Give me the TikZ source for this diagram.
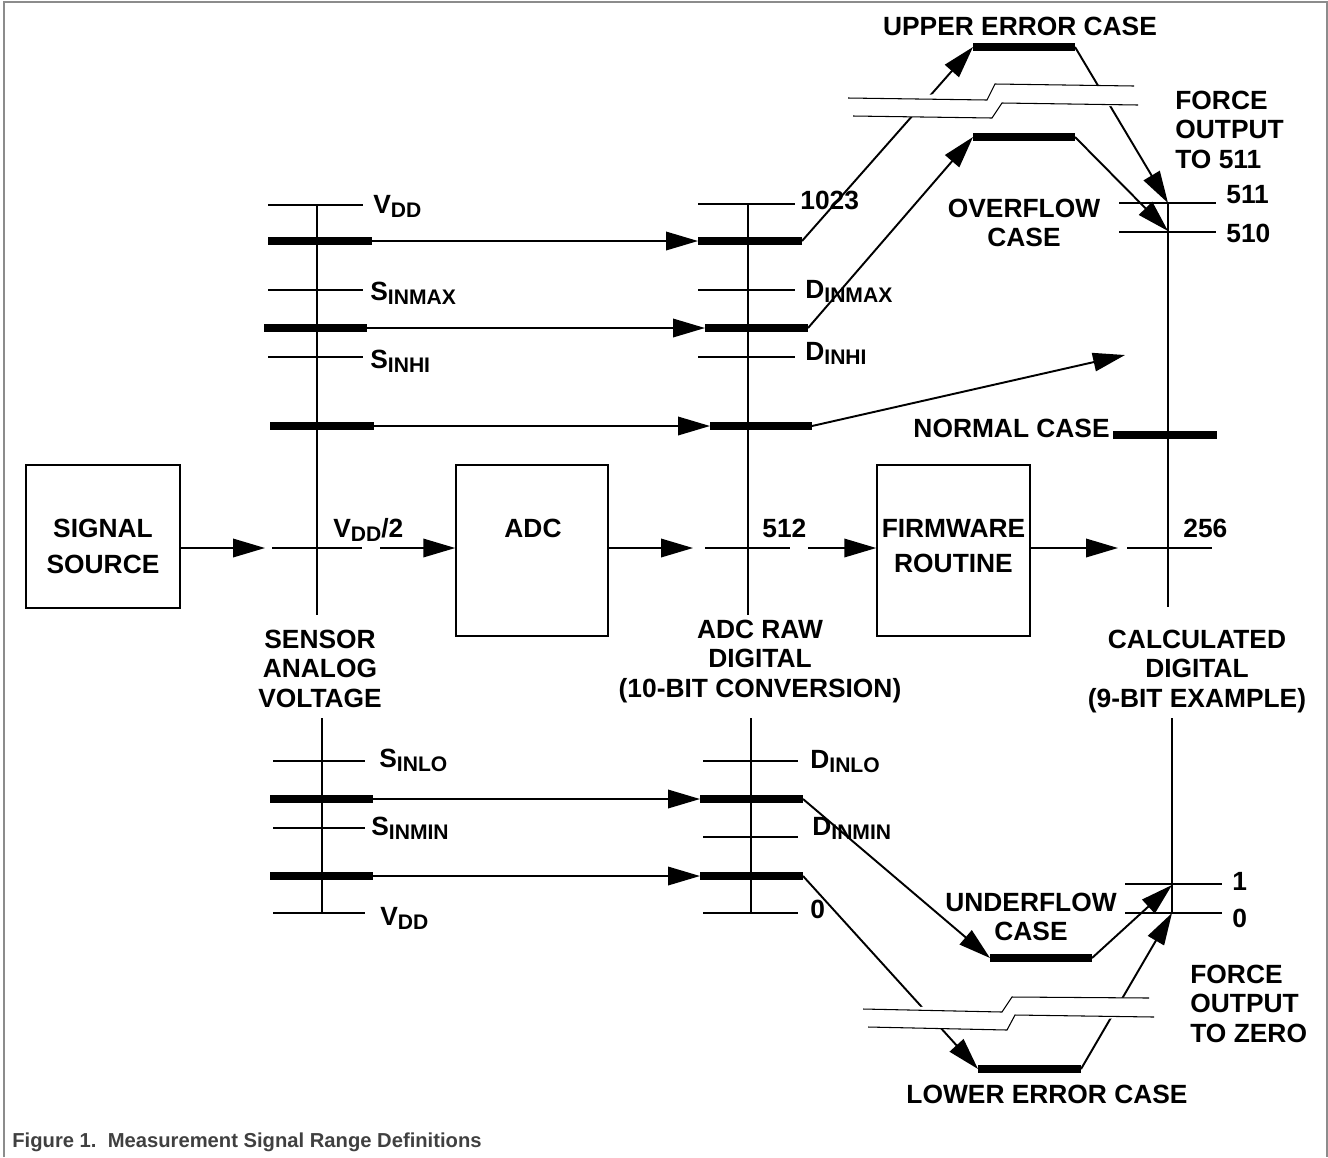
\documentclass[tikz,border=0pt]{standalone}
\usepackage{fontspec}
\setmainfont{Liberation Sans}
\usetikzlibrary{arrows.meta}
\newcommand{\sig}[2]{#1\raisebox{-0.3ex}{\fontsize{12}{12}\selectfont #2}}

\begin{document}
\begin{tikzpicture}[x=0.02cm, y=-0.02cm,
	every node/.style={font=\fontsize{15}{16.6}\selectfont\bfseries, inner sep=0pt, align=center},
	tickline/.style={line width=1.1pt},
	bar/.style={line width=4.6pt},
	conn/.style={line width=1.1pt, -{Triangle[length=0.64cm, width=0.37cm]}},
	box/.style={draw, line width=0.85pt},
	brk/.style={fill=white, draw=black, line width=0.6pt}]
	\useasboundingbox (0,0) rectangle (1328,1157);
	\draw[black!45, line width=1pt] (4,1157) -- (4,2) -- (1327,2) -- (1327,1157);

	% blocks
	\node[box, minimum width=3.08cm, minimum height=2.86cm] (src) at (103,536.5) {};
	\node[box, minimum width=3.04cm, minimum height=3.42cm] (adc) at (532,550.5) {};
	\node[box, minimum width=3.06cm, minimum height=3.42cm] (fw) at (953.5,550.5) {};
	\node[anchor=north] (srcText) at (103,519) {SIGNAL\\[3.6pt]SOURCE};
	\node[anchor=base] (adcText) at (533,537) {ADC};
	\node[anchor=north] (fwText) at (953.5,519) {FIRMWARE\\[3.6pt]ROUTINE};

	% axes
	\draw[tickline] (317,205) -- (317,615);
	\draw[tickline] (322,718) -- (322,913);
	\draw[tickline] (748,205) -- (748,615);
	\draw[tickline] (751,718) -- (751,913);
	\draw[tickline] (1168,203) -- (1168,607);
	\draw[tickline] (1172,718) -- (1172,913);

	% thin ticks
	\foreach \y in {205,290,357} \draw[tickline] (268,\y) -- (363,\y);
	\foreach \y in {761,828,913} \draw[tickline] (273,\y) -- (365,\y);
	\foreach \y in {204,290,357} \draw[tickline] (698,\y) -- (795,\y);
	\foreach \y in {761,837,913} \draw[tickline] (703,\y) -- (798,\y);
	\foreach \y in {203,232} \draw[tickline] (1119,\y) -- (1216,\y);
	\foreach \y in {884,913} \draw[tickline] (1125,\y) -- (1222,\y);
	\draw[tickline] (272,548) -- (362,548);
	\draw[tickline] (705,548) -- (790,548);
	\draw[tickline] (1127,548) -- (1212,548);

	% level bars
	\coordinate (sUE-l) at (268,241); \coordinate (sUE-r) at (372,241);
	\coordinate (sOF-l) at (264,328); \coordinate (sOF-r) at (367,328);
	\coordinate (sNC-l) at (270,426); \coordinate (sNC-r) at (374,426);
	\coordinate (sUF-l) at (270,799); \coordinate (sUF-r) at (373,799);
	\coordinate (sLE-l) at (270,876); \coordinate (sLE-r) at (373,876);
	\coordinate (dUE-l) at (698,241); \coordinate (dUE-r) at (802,241);
	\coordinate (dOF-l) at (705,328); \coordinate (dOF-r) at (808,328);
	\coordinate (dNC-l) at (710,426); \coordinate (dNC-r) at (812,426);
	\coordinate (dUF-l) at (700,799); \coordinate (dUF-r) at (803,799);
	\coordinate (dLE-l) at (700,876); \coordinate (dLE-r) at (803,876);
	\coordinate (UE-l) at (973,47);   \coordinate (UE-r) at (1075,47);
	\coordinate (OF-l) at (973,137);  \coordinate (OF-r) at (1075,137);
	\coordinate (NC-l) at (1113,435); \coordinate (NC-r) at (1217,435);
	\coordinate (UF-l) at (990,958);  \coordinate (UF-r) at (1092,958);
	\coordinate (LE-l) at (978,1069); \coordinate (LE-r) at (1081,1069);
	\foreach \p in {sUE,sOF,sNC,sUF,sLE,dUE,dOF,dNC,dUF,dLE,UE,OF,NC,UF,LE}
		\draw[bar] (\p-l) -- (\p-r);

	% end points on the output scale
	\coordinate (c511) at (1168,203);
	\coordinate (c510) at (1168,231);
	\coordinate (c1) at (1172,885);
	\coordinate (c0) at (1172,913);
	\coordinate (ncTip) at (1125,355);

	% signal chain
	\coordinate (sIn) at (265,548);
	\coordinate (sOut) at (380,548);
	\coordinate (dIn) at (693,548);
	\coordinate (dOut) at (808,548);
	\coordinate (cIn) at (1118,548);
	\draw[conn] (src.east |- sIn) -- (sIn);
	\draw[conn] (sOut) -- (adc.west |- sOut);
	\draw[conn] (adc.east |- dIn) -- (dIn);
	\draw[conn] (dOut) -- (fw.west |- dOut);
	\draw[conn] (fw.east |- cIn) -- (cIn);

	% level mapping
	\foreach \p in {UE,OF,NC,UF,LE}
		\draw[conn] (s\p-r) -- (d\p-l);
	\draw[conn] (dUE-r) -- (UE-l);
	\draw[conn] (UE-r) -- (c511);
	\draw[conn] (dOF-r) -- (OF-l);
	\draw[conn] (OF-r) -- (c510);
	\draw[conn] (dNC-r) -- (ncTip);
	\draw[conn] (dUF-r) -- (UF-l);
	\draw[conn] (UF-r) -- (c1);
	\draw[conn] (dLE-r) -- (LE-l);
	\draw[conn] (LE-r) -- (c0);

	% scale breaks
	\path[fill=white] (848,98) -- (987,100) -- (995,84) -- (1134,86) -- (1138,105) -- (1002,103) -- (992,118) -- (853,116) -- cycle;
	\draw[brk] (848,98) -- (987,100) -- (995,84) -- (1134,86);
	\draw[brk] (853,116) -- (992,118) -- (1002,103) -- (1138,105);
	\path[fill=white] (863,1009) -- (1002,1012) -- (1012,997) -- (1149,998) -- (1154,1017) -- (1015,1015) -- (1007,1030) -- (868,1027) -- cycle;
	\draw[brk] (863,1009) -- (1002,1012) -- (1012,997) -- (1149,998);
	\draw[brk] (868,1027) -- (1007,1030) -- (1015,1015) -- (1154,1017);

	% scale labels
	\node[anchor=base west] (lVdd) at (373,213) {\sig{V}{DD}};
	\node[anchor=base west] (lSmax) at (370,300) {\sig{S}{INMAX}};
	\node[anchor=base west] (lShi) at (370,368) {\sig{S}{INHI}};
	\node[anchor=base west] (lVmid) at (333,537) {\sig{V}{DD}/2};
	\node[anchor=base west] (lSlo) at (379,767) {\sig{S}{INLO}};
	\node[anchor=base west] (lSmin) at (371,835) {\sig{S}{INMIN}};
	\node[anchor=base west] (lVss) at (380,925) {\sig{V}{DD}};
	\node[anchor=base west] (l1023) at (800,209) {1023};
	\node[anchor=base west] (lDmax) at (805,298) {\sig{D}{INMAX}};
	\node[anchor=base west] (lDhi) at (805,360) {\sig{D}{INHI}};
	\node[anchor=base west] (l512) at (762,537) {512};
	\node[anchor=base west] (lDlo) at (810,768) {\sig{D}{INLO}};
	\node[anchor=base west] (lDmin) at (812,835) {\sig{D}{INMIN}};
	\node[anchor=base west] (lD0) at (810,918) {0};
	\node[anchor=base west] (l511) at (1226,203) {511};
	\node[anchor=base west] (l510) at (1226,242) {510};
	\node[anchor=base west] (l256) at (1183,537) {256};
	\node[anchor=base west] (l1) at (1232,890) {1};
	\node[anchor=base west] (l0) at (1232,927) {0};

	% case texts
	\node[anchor=base] (ueText) at (1020,35) {UPPER ERROR CASE};
	\node[anchor=north west, align=left] (f511) at (1175,91) {FORCE\\OUTPUT\\TO 511};
	\node[anchor=north] (ofText) at (1024,199) {OVERFLOW\\CASE};
	\node[anchor=base east] (ncText) at (1110,437) {NORMAL CASE};
	\node[anchor=north] (ufText) at (1031,893) {UNDERFLOW\\CASE};
	\node[anchor=north west, align=left] (f0) at (1190,965) {FORCE\\OUTPUT\\TO ZERO};
	\node[anchor=base] (leText) at (1047,1103) {LOWER ERROR CASE};
	\node[anchor=north] (sAxis) at (320,630) {SENSOR\\ANALOG\\VOLTAGE};
	\node[anchor=north] (dAxis) at (760,620) {ADC RAW\\DIGITAL\\(10-BIT CONVERSION)};
	\node[anchor=north] (cAxis) at (1197,630) {CALCULATED\\DIGITAL\\(9-BIT EXAMPLE)};
	\node[anchor=base west, font=\fontsize{11.5}{13}\selectfont\bfseries, text=black!75] (caption) at (12,1147) {Figure 1.\ \ Measurement Signal Range Definitions};
\end{tikzpicture}
\end{document}
